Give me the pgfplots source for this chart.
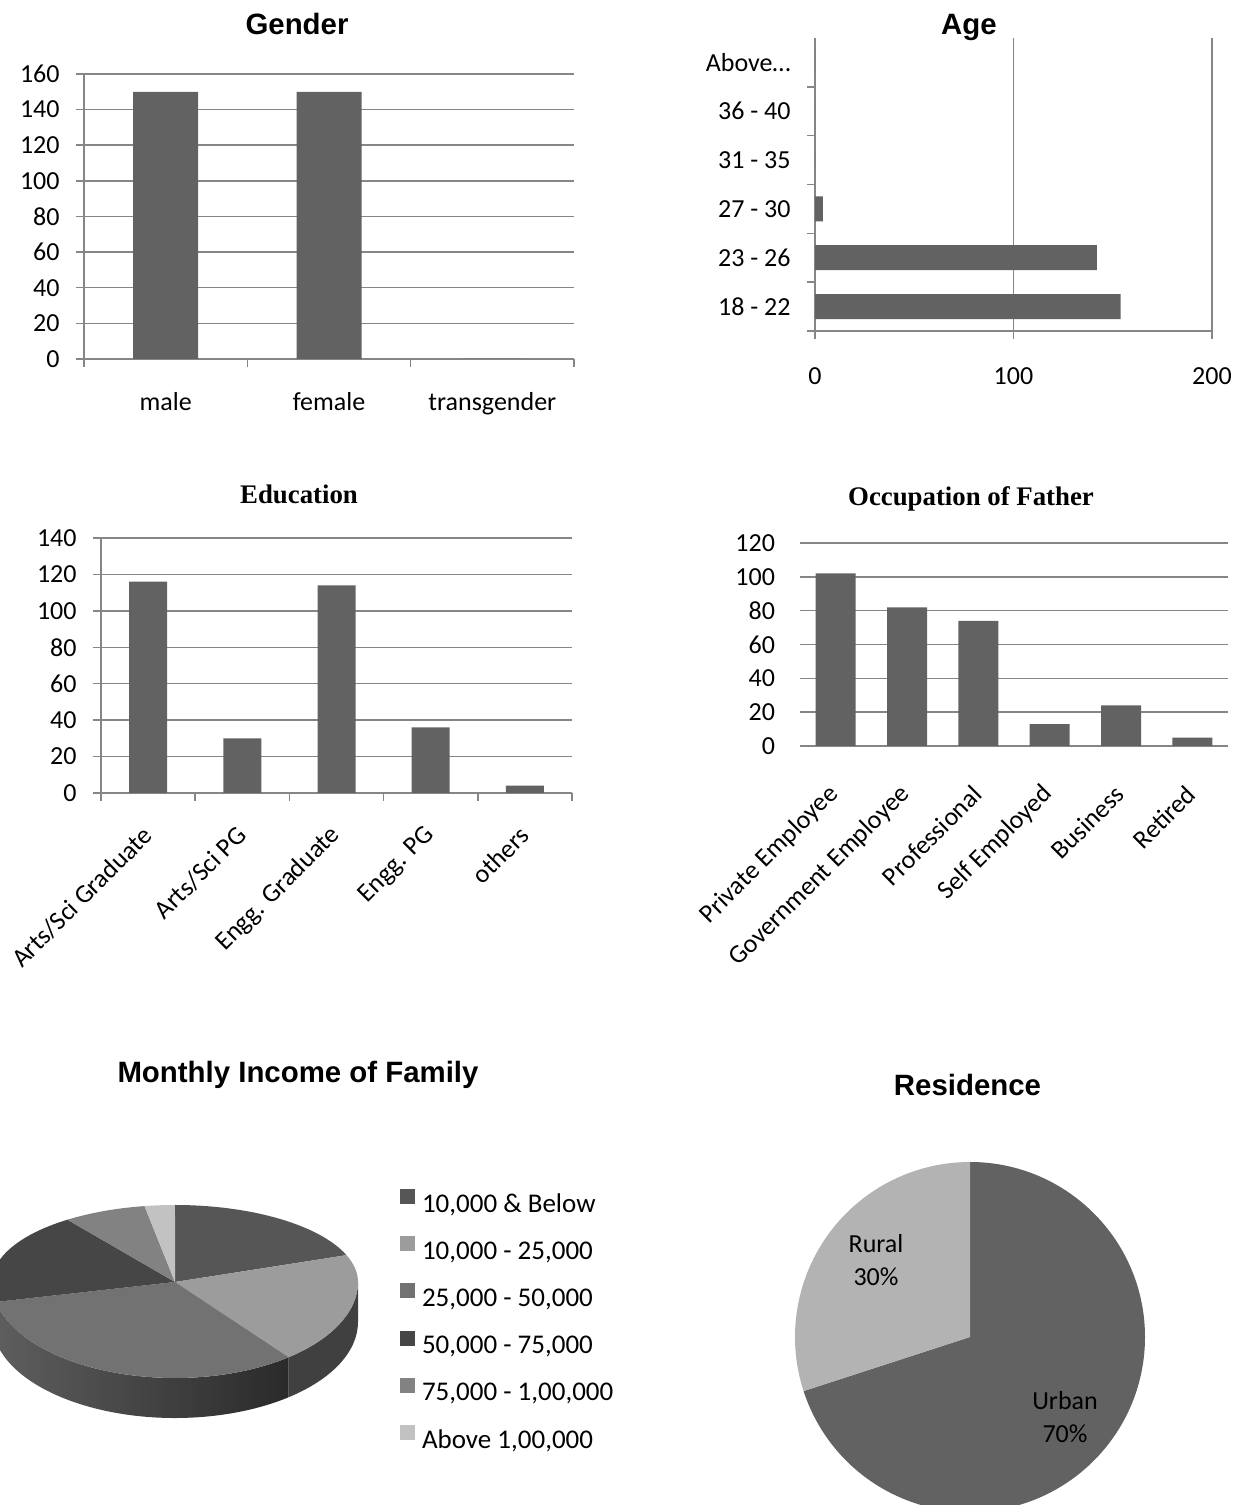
\documentclass[border=0pt]{standalone}
\usepackage{fontspec}
\setmainfont{Carlito}
\newfontfamily\arialf{Liberation Sans}
\newfontfamily\timesf{Liberation Serif}
\usepackage{pgfplots}
\pgfplotsset{compat=1.18}

\definecolor{gridc}{HTML}{868686}
\definecolor{barc}{HTML}{626262}
\definecolor{incA}{HTML}{565656}
\definecolor{incB}{HTML}{9C9C9C}
\definecolor{incC}{HTML}{727272}
\definecolor{incD}{HTML}{464646}
\definecolor{incE}{HTML}{828282}
\definecolor{incF}{HTML}{C2C2C2}
\definecolor{sideB}{HTML}{404040}
\definecolor{sideCl}{HTML}{5E5E5E}
\definecolor{sideCr}{HTML}{2A2A2A}
\definecolor{sideD}{HTML}{3C3C3C}
\definecolor{urb}{HTML}{626262}
\definecolor{rur}{HTML}{B3B3B3}

\newcommand{\lbl}{\fontsize{13}{16.5}\selectfont}
\newcommand{\leg}{\fontsize{13.5}{16}\selectfont}
\newcommand{\ttlA}{\arialf\bfseries\fontsize{14.7}{17}\selectfont}
\newcommand{\ttlT}{\timesf\bfseries\fontsize{13.4}{16}\selectfont}

% income data (counts, total 300)
\def\iA{58}\def\iB{60}\def\iC{97}\def\iD{55}\def\iE{22}\def\iF{8}
\pgfmathsetmacro\tA{90-\iA*1.2}
\pgfmathsetmacro\tB{\tA-\iB*1.2}
\pgfmathsetmacro\tC{\tB-\iC*1.2}
\pgfmathsetmacro\tD{\tC-\iD*1.2}
\pgfmathsetmacro\tE{\tD-\iE*1.2}
\pgfmathsetmacro\tF{\tE-\iF*1.2}
\def\cx{175}\def\cy{223}\def\rx{183}\def\ru{77}\def\rd{96}\def\dep{40}
% residence data (percent)
\def\rUrban{70}\def\rRural{30}
\pgfmathsetmacro\tU{90-\rUrban*3.6}
\pgfmathsetmacro\tR{90+\rRural*3.6}

\pgfplotsset{
 barax/.style={
  scale only axis, anchor=south west,
  axis line style={draw=gridc, line width=0.75pt},
  tick style={draw=gridc, line width=0.75pt},
  major grid style={draw=gridc, line width=0.75pt},
  tick label style={font=\lbl, text=black},
  /pgf/number format/assume math mode=true,
  tick align=outside,
  major tick length=4pt, minor tick length=4pt,
 }
}

\begin{document}
\begin{tikzpicture}
\useasboundingbox (0pt,0pt) rectangle (621pt,752.5pt);

% ---------- canvas for pies ----------
\begin{axis}[at={(0pt,0pt)}, anchor=south west, scale only axis,
  width=621pt, height=752.5pt, xmin=0, xmax=1242, ymin=0, ymax=1505, hide axis,
  legend style={at={(0.3221,0.2100)}, anchor=north west, draw=none, fill=none,
    inner sep=0pt, outer sep=0pt, font=\leg, row sep=9pt, column sep=3.5pt,
    nodes={inner sep=0pt, text height=10pt, text depth=3pt}},
  legend image code/.code={\fill[#1] (0pt,0.6pt) rectangle (7.5pt,8.1pt);},
  legend cell align=left]
\addlegendimage{fill=incA, draw=none}\addlegendentry{10,000 \& Below}
\addlegendimage{fill=incB, draw=none}\addlegendentry{10,000 - 25,000}
\addlegendimage{fill=incC, draw=none}\addlegendentry{25,000 - 50,000}
\addlegendimage{fill=incD, draw=none}\addlegendentry{50,000 - 75,000}
\addlegendimage{fill=incE, draw=none}\addlegendentry{75,000 - 1,00,000}
\addlegendimage{fill=incF, draw=none}\addlegendentry{Above 1,00,000}

% sides of 3D pie
\fill[sideB] (axis cs:{\cx+\rx},\cy) arc[start angle=0, end angle=\tB, x radius=\rx, y radius=\rd]
  -- (axis cs:{\cx+\rx*cos(\tB)},{\cy-\dep+\rd*sin(\tB)}) arc[start angle=\tB, end angle=0, x radius=\rx, y radius=\rd] -- cycle;
\shade[left color=sideCl, right color=sideCr] (axis cs:{\cx+\rx*cos(\tB)},{\cy+\rd*sin(\tB)}) arc[start angle=\tB, end angle=\tC, x radius=\rx, y radius=\rd]
  -- (axis cs:{\cx+\rx*cos(\tC)},{\cy-\dep+\rd*sin(\tC)}) arc[start angle=\tC, end angle=\tB, x radius=\rx, y radius=\rd] -- cycle;
\fill[sideD] (axis cs:{\cx+\rx*cos(\tC)},{\cy+\rd*sin(\tC)}) arc[start angle=\tC, end angle=-180, x radius=\rx, y radius=\rd]
  -- (axis cs:{\cx-\rx},{\cy-\dep}) arc[start angle=-180, end angle=\tC, x radius=\rx, y radius=\rd] -- cycle;
% top faces
\fill[incA] (axis cs:\cx,\cy) -- (axis cs:\cx,{\cy+\ru}) arc[start angle=90, end angle=\tA, x radius=\rx, y radius=\ru] -- cycle;
\fill[incB] (axis cs:\cx,\cy) -- (axis cs:{\cx+\rx*cos(\tA)},{\cy+\ru*sin(\tA)}) arc[start angle=\tA, end angle=0, x radius=\rx, y radius=\ru] arc[start angle=0, end angle=\tB, x radius=\rx, y radius=\rd] -- cycle;
\fill[incC] (axis cs:\cx,\cy) -- (axis cs:{\cx+\rx*cos(\tB)},{\cy+\rd*sin(\tB)}) arc[start angle=\tB, end angle=\tC, x radius=\rx, y radius=\rd] -- cycle;
\fill[incD] (axis cs:\cx,\cy) -- (axis cs:{\cx+\rx*cos(\tC)},{\cy+\rd*sin(\tC)}) arc[start angle=\tC, end angle=-180, x radius=\rx, y radius=\rd] arc[start angle=-180, end angle=\tD, x radius=\rx, y radius=\ru] -- cycle;
\fill[incE] (axis cs:\cx,\cy) -- (axis cs:{\cx+\rx*cos(\tD)},{\cy+\ru*sin(\tD)}) arc[start angle=\tD, end angle=\tE, x radius=\rx, y radius=\ru] -- cycle;
\fill[incF] (axis cs:\cx,\cy) -- (axis cs:{\cx+\rx*cos(\tE)},{\cy+\ru*sin(\tE)}) arc[start angle=\tE, end angle=\tF, x radius=\rx, y radius=\ru] -- cycle;

% residence pie
\fill[urb] (axis cs:970,168) -- (axis cs:970,343) arc[start angle=90, end angle=\tU, radius=175] -- cycle;
\fill[rur] (axis cs:970,168) -- (axis cs:970,343) arc[start angle=90, end angle=\tR, radius=175] -- cycle;
\node[font=\lbl, align=center] at (axis cs:876,245) {Rural\\30\%};
\node[font=\lbl, align=center] at (axis cs:1065,88) {Urban\\70\%};
\end{axis}

% ---------- Gender ----------
\begin{axis}[barax, at={(42pt,573pt)}, width=245pt, height=142.5pt,
  axis lines*=left, ymin=0, ymax=160, ytick={0,20,...,160}, ymajorgrids,
  xmin=-0.5, xmax=2.5, xtick={0,1,2}, xticklabels={male,female,transgender},
  major x tick style={draw=none}, minor xtick={-0.5,0.5,1.5,2.5},
  yticklabel style={xshift=-4.7pt}, xticklabel style={yshift=-9pt},
  ybar, bar width=32.5pt]
\addplot[fill=barc, draw=none] coordinates {(0,150) (1,150) (2,0)};
\end{axis}

% ---------- Age ----------
\begin{axis}[barax, at={(407.5pt,587pt)}, width=198.5pt, height=146.5pt,
  axis lines*=left, xmin=0, xmax=200, xtick={0,100,200}, xmajorgrids,
  ymin=-0.5, ymax=5.5, ytick={0,1,2,3,4,5},
  yticklabels={18 - 22,23 - 26,27 - 30,31 - 35,36 - 40,Above…},
  major y tick style={draw=none}, minor ytick={-0.5,0.5,1.5,2.5,3.5,4.5},
  yticklabel style={xshift=-4.7pt}, xticklabel style={yshift=-11pt},
  xbar, bar width=12.5pt]
\addplot[fill=barc, draw=none] coordinates {(154,0) (142,1) (4,2) (0,3) (0,4) (0,5)};
\end{axis}

% ---------- Education ----------
\begin{axis}[barax, at={(50.5pt,356pt)}, width=235.5pt, height=127.5pt,
  axis lines*=left, ymin=0, ymax=140, ytick={0,20,...,140}, ymajorgrids,
  xmin=-0.5, xmax=4.5, xtick={0,1,2,3,4},
  xticklabels={Arts/Sci Graduate,Arts/Sci PG,Engg. Graduate,Engg. PG,others},
  major x tick style={draw=none}, minor xtick={-0.5,0.5,1.5,2.5,3.5,4.5},
  yticklabel style={xshift=-4.7pt},
  xticklabel style={xshift=0pt, yshift=-15pt, rotate=45, anchor=east, inner sep=0pt},
  ybar, bar width=19pt]
\addplot[fill=barc, draw=none] coordinates {(0,116) (1,30) (2,114) (3,36) (4,4)};
\end{axis}

% ---------- Occupation ----------
\begin{axis}[barax, at={(400pt,379.5pt)}, width=214pt, height=101.5pt,
  axis lines*=left, y axis line style={draw=none}, major tick length=0pt,
  ymin=0, ymax=120, ytick={0,20,...,120}, ymajorgrids,
  xmin=-0.5, xmax=5.5, xtick={0,1,2,3,4,5},
  xticklabels={Private Employee,Government Employee,Professional,Self Employed,Business,Retired},
  major x tick style={draw=none},
  yticklabel style={xshift=-9pt},
  xticklabel style={xshift=-0.5pt, yshift=-22pt, rotate=45, anchor=east, inner sep=0pt},
  ybar, bar width=20pt]
\addplot[fill=barc, draw=none] coordinates {(0,102) (1,82) (2,74) (3,13) (4,24) (5,5)};
\end{axis}

% ---------- titles ----------
\node[font=\ttlA] at (148.5pt,740.5pt) {Gender};
\node[font=\ttlA] at (484.5pt,738.5pt) {Age};
\node[font=\ttlT] at (149.5pt,505.5pt) {Education};
\node[font=\ttlT] at (485.5pt,503pt) {Occupation of Father};
\node[font=\ttlA] at (149pt,215pt) {Monthly Income of Family};
\node[font=\ttlA] at (483.75pt,210pt) {Residence};
\end{tikzpicture}
\end{document}
